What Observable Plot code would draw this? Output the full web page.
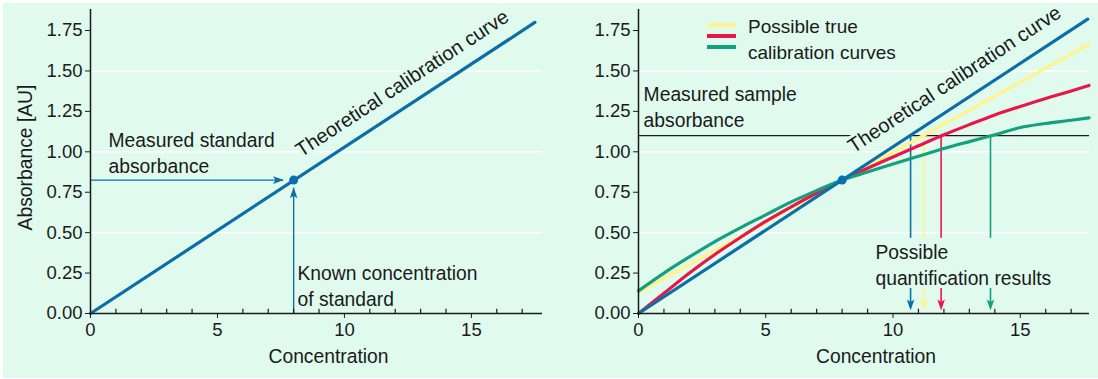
<!DOCTYPE html>
<html>
<head>
<meta charset="utf-8">
<script src="https://cdn.jsdelivr.net/npm/d3@7"></script>
<script src="https://cdn.jsdelivr.net/npm/@observablehq/plot@0.6"></script>
<style>
  html, body { margin: 0; padding: 0; background: #ffffff; }
  #wrap { position: relative; width: 1098px; height: 379px; overflow: hidden; background: #ffffff; }
  #mint { position: absolute; left: 3px; top: 3px; width: 1095px; height: 375px; background: #e0fbee; }
  #left, #right { position: absolute; top: 0; }
  #left { left: 0; }
  #right { left: 549px; }
  #legend { position: absolute; left: 707px; top: 12px; font-family: "Liberation Sans", Arial, sans-serif; font-size: 19px; line-height: 26px; color: #1a1a1a; }
  #legend .sw { position: absolute; left: 0; width: 29px; height: 4px; }
  #legend .txt { position: absolute; left: 41px; top: 2px; white-space: nowrap; }
</style>
</head>
<body>
<div id="wrap">
  <div id="mint"></div>
  <div id="left"></div>
  <div id="right"></div>
  <div id="legend"></div>
</div>
<script>
// ---------- data ----------
const concentrationTicks = [0, 5, 10, 15];
const concentrationMinor = [1, 2, 3, 4, 6, 7, 8, 9, 11, 12, 13, 14, 16, 17];
const absorbanceTicks = [0, 0.25, 0.5, 0.75, 1.0, 1.25, 1.5, 1.75];
const gridValues = [0.5, 1.0, 1.5];

const theoLeftX = [0, 17.5];
const theoLeftY = [0, 1.80];
const theoRightX = [0, 17.65];
const theoRightY = [0, 1.82];

const standardConc = 8;
const standardAbs = 0.825;
const sampleAbs = 1.10;

const yellowX = [0, 17.7];
const yellowY = [0.13, 1.665];
const curveX = [0, 1, 2, 3, 4, 5, 6, 7, 8, 9, 10, 11, 12, 13, 14, 15, 16, 17, 17.7];
const redY   = [0, 0.125, 0.25, 0.365, 0.47, 0.57, 0.66, 0.745, 0.825, 0.898, 0.968, 1.037, 1.105, 1.168, 1.228, 1.28, 1.33, 1.376, 1.41];
const greenY = [0.14, 0.25, 0.35, 0.445, 0.53, 0.61, 0.69, 0.76, 0.825, 0.875, 0.925, 0.972, 1.02, 1.063, 1.105, 1.15, 1.175, 1.195, 1.21];

const resultConc = [10.69, 11.21, 11.89, 13.83];
const resultNames = ["theoretical", "yellow", "red", "green"];

const legendLabels = ["Possible true", "calibration curves"];

// ---------- styles ----------
const mint = "#e0fbee";
const ink = "#1a1a1a";
const blue = "#0b6ea8";
const yellow = "#fff48c";
const red = "#e8174b";
const green = "#14a07c";
const resultColors = [blue, yellow, red, green];
const font = "'Liberation Sans', Arial, sans-serif";
const fs = 18.5;
const afs = 19.3;
const tfs = 20;

// custom filled arrowheads (tip at the point)
const headDown = {draw(c) { c.moveTo(0, 0); c.lineTo(-3.8, -11); c.lineTo(0, -8.5); c.lineTo(3.8, -11); c.closePath(); }};
const headUp = {draw(c) { c.moveTo(0, 0); c.lineTo(-3.8, 11); c.lineTo(0, 8.5); c.lineTo(3.8, 11); c.closePath(); }};
const headRight = {draw(c) { c.moveTo(0, 0); c.lineTo(-11, -3.8); c.lineTo(-8.5, 0); c.lineTo(-11, 3.8); c.closePath(); }};

const pts = (xs, ys) => xs.map((x, i) => ({x, y: ys[i]}));

function axes(showYLabel) {
  const m = [
    Plot.ruleX([0], {stroke: ink, strokeWidth: 1.5}),
    Plot.ruleY([0], {stroke: ink, strokeWidth: 1.5}),
    Plot.axisY(absorbanceTicks, {tickSize: 5, tickPadding: 3, tickFormat: d3.format(".2f"), label: null, stroke: ink, fill: ink}),
    Plot.axisX(concentrationTicks, {tickSize: 5, tickPadding: 4, label: null, stroke: ink, fill: ink}),
    Plot.ruleX(concentrationMinor, {y1: 0, y2: 0.027, stroke: ink, strokeWidth: 1.2}),
    Plot.text(["Concentration"], {frameAnchor: "bottom", dy: 43, dx: 12, textAnchor: "middle", fill: ink, lineAnchor: "middle", fontSize: afs})
  ];
  if (showYLabel) m.push(Plot.text(["Absorbance [AU]"], {frameAnchor: "left", dx: -65, dy: -4, rotate: -90, textAnchor: "middle", fill: ink, lineAnchor: "middle", fontSize: afs}));
  return m;
}

const common = {
  width: 549,
  height: 379,
  marginTop: 9,
  marginBottom: 66,
  y: {domain: [0, 1.88]},
  style: {background: "transparent", fontFamily: font, fontSize: fs + "px", color: ink, overflow: "visible"}
};

// ---------- left panel ----------
const left = Plot.plot({
  ...common,
  marginLeft: 90,
  marginRight: 7,
  x: {domain: [0, 17.8]},
  marks: [
    Plot.ruleY(gridValues, {stroke: "white", strokeWidth: 1.5}),
    Plot.text(["Measured standard\nabsorbance"], {x: 0.71, y: 1.145, textAnchor: "start", lineAnchor: "top", lineHeight: 1.35, fill: ink, stroke: mint, strokeWidth: 8, fontSize: afs}),
    Plot.text(["Known concentration\nof standard"], {x: 8.15, y: 0.322, textAnchor: "start", lineAnchor: "top", lineHeight: 1.35, fill: ink, stroke: mint, strokeWidth: 6, fontSize: afs}),
    Plot.text(["Theoretical calibration curve"], {x: 8.3, y: 0.965, textAnchor: "start", lineAnchor: "bottom", rotate: -33.3, fill: ink, stroke: mint, strokeWidth: 6, fontSize: tfs}),
    Plot.line(pts(theoLeftX, theoLeftY), {x: "x", y: "y", stroke: blue, strokeWidth: 3.2}),
    Plot.ruleY([standardAbs], {x1: 0, x2: standardConc - 0.4, stroke: blue, strokeWidth: 1.4}),
    Plot.ruleX([standardConc], {y1: 0, y2: standardAbs - 0.05, stroke: blue, strokeWidth: 1.4}),
    Plot.dot([{x: standardConc - 0.38, y: standardAbs}], {x: "x", y: "y", symbol: headRight, r: 4, fill: blue, stroke: "none"}),
    Plot.dot([{x: standardConc, y: standardAbs - 0.045}], {x: "x", y: "y", symbol: headUp, r: 4, fill: blue, stroke: "none"}),
    Plot.dot([{x: standardConc, y: standardAbs}], {x: "x", y: "y", r: 4.5, fill: blue, stroke: "none"}),
    ...axes(true)
  ]
});
document.getElementById("left").appendChild(left);

// ---------- right panel ----------
const results = resultConc.map((x, i) => ({x, name: resultNames[i], color: resultColors[i]}));

const right = Plot.plot({
  ...common,
  marginLeft: 89,
  marginRight: 9,
  x: {domain: [0, 17.72]},
  marks: [
    Plot.ruleY(gridValues, {stroke: "white", strokeWidth: 1.5}),
    Plot.ruleY([sampleAbs], {x1: 0, x2: 8.45, stroke: ink, strokeWidth: 1.3}),
    Plot.ruleY([sampleAbs], {x1: resultConc[0], x2: 17.72, stroke: ink, strokeWidth: 1.3}),
    Plot.text(["Measured sample\nabsorbance"], {x: 0.2, y: 1.428, textAnchor: "start", lineAnchor: "top", lineHeight: 1.35, fill: ink, fontSize: afs}),
    Plot.text(["Possible\nquantification results"], {x: 9.31, y: 0.45, textAnchor: "start", lineAnchor: "top", lineHeight: 1.35, fill: ink, stroke: mint, strokeWidth: 6, fontSize: afs}),
    Plot.text(["Theoretical calibration curve"], {x: 8.45, y: 0.99, textAnchor: "start", lineAnchor: "bottom", rotate: -33.3, fill: ink, stroke: mint, strokeWidth: 6, fontSize: tfs}),
    Plot.ruleX(results, {x: "x", y1: sampleAbs, y2: 0.465, stroke: "color", strokeWidth: 1.6}),
    Plot.ruleX(results, {x: "x", y1: 0.155, y2: 0.05, stroke: "color", strokeWidth: 1.6}),
    Plot.dot(results, {x: "x", y: 0.018, symbol: headDown, r: 4, fill: "color", stroke: "none"}),
    Plot.line(pts(yellowX, yellowY), {x: "x", y: "y", stroke: yellow, strokeWidth: 3.2}),
    Plot.line(pts(curveX, redY), {x: "x", y: "y", stroke: red, strokeWidth: 3.2, curve: "monotone-x"}),
    Plot.line(pts(curveX, greenY), {x: "x", y: "y", stroke: green, strokeWidth: 3.2, curve: "monotone-x"}),
    Plot.line(pts(theoRightX, theoRightY), {x: "x", y: "y", stroke: blue, strokeWidth: 3.2}),
    Plot.dot([{x: standardConc, y: standardAbs}], {x: "x", y: "y", r: 4.5, fill: blue, stroke: "none"}),
    ...axes(false)
  ]
});
document.getElementById("right").appendChild(right);

// ---------- legend ----------
const legend = document.getElementById("legend");
[yellow, red, green].forEach((c, i) => {
  const s = document.createElement("div");
  s.className = "sw";
  s.style.background = c;
  s.style.top = (11 + i * 11) + "px";
  legend.appendChild(s);
});
const t = document.createElement("div");
t.className = "txt";
t.innerHTML = legendLabels.join("<br>");
legend.appendChild(t);
</script>
</body>
</html>
